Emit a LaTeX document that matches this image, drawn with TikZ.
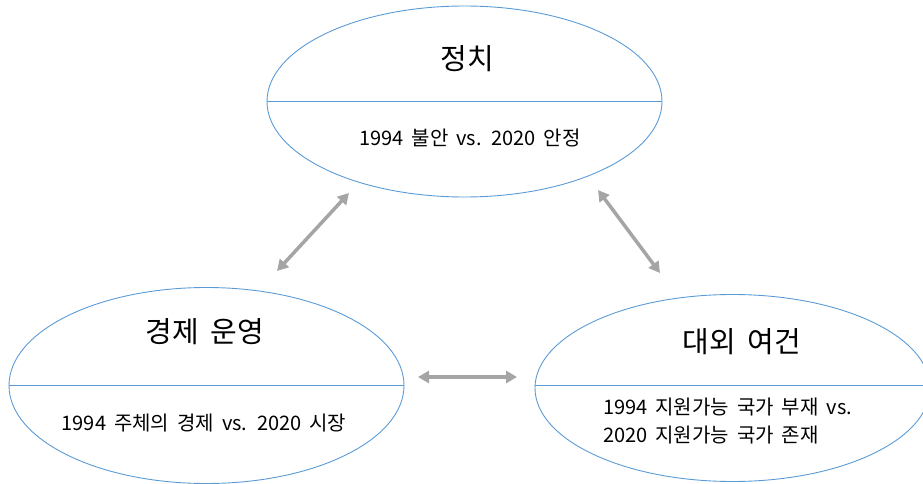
\documentclass[tikz,border=0pt]{standalone}
\usepackage{fontspec}
\setmainfont{Noto Sans CJK KR}
\usetikzlibrary{shapes.geometric,arrows.meta}
\definecolor{ellblue}{HTML}{5B9BD5}
\definecolor{arrgray}{HTML}{A5A5A5}
\newcommand\widespaces{\spaceskip=0.4em\relax}
\begin{document}
\begin{tikzpicture}[x=1pt,y=-1pt,
  oval/.style={ellipse,draw=ellblue,line width=0.9pt,inner sep=0pt},
  divider/.style={draw=ellblue,line width=0.9pt},
  title/.style={font=\fontsize{29}{33}\selectfont\widespaces,inner sep=0pt},
  body/.style={font=\fontsize{20}{28}\selectfont\widespaces,inner sep=0pt},
  link/.style={draw=arrgray,line width=3.5pt,{Triangle[length=11pt,width=12pt]}-{Triangle[length=11pt,width=12pt]}}]
\useasboundingbox (0,0) rectangle (923,484);
\node[oval,minimum width=395pt,minimum height=191pt] (pol) at (464.5,101.5) {};
\node[oval,minimum width=395pt,minimum height=196pt] (eco) at (206.5,385.5) {};
\node[oval,minimum width=395pt,minimum height=187pt] (ext) at (732.5,388) {};
\draw[divider] (pol.west) -- (pol.east);
\draw[divider] (eco.west) -- (eco.east);
\draw[divider] (ext.west |- 0,385.5) -- (ext.east |- 0,385.5);
\node[title] (polt) at (467,59) {정치};
\node[body] (polb) at (470,138) {1994 불안 vs. 2020 안정};
\node[title] (ecot) at (205,332) {경제 운영};
\node[body] (ecob) at (204,423) {1994 주체의 경제 vs. 2020 시장};
\node[title] (extt) at (742,342) {대외 여건};
\node[body,align=left,anchor=west] (extb) at (603,421) {1994 지원가능 국가 부재 vs.\\2020 지원가능 국가 존재};
\coordinate (a1s) at (277,271);
\coordinate (a1e) at (349,193);
\coordinate (a2s) at (598,190);
\coordinate (a2e) at (660,273);
\coordinate (a3s) at (418,377);
\coordinate (a3e) at (517,377);
\draw[link] (a1s) -- (a1e);
\draw[link] (a2s) -- (a2e);
\draw[link] (a3s) -- (a3e);
\end{tikzpicture}
\end{document}
